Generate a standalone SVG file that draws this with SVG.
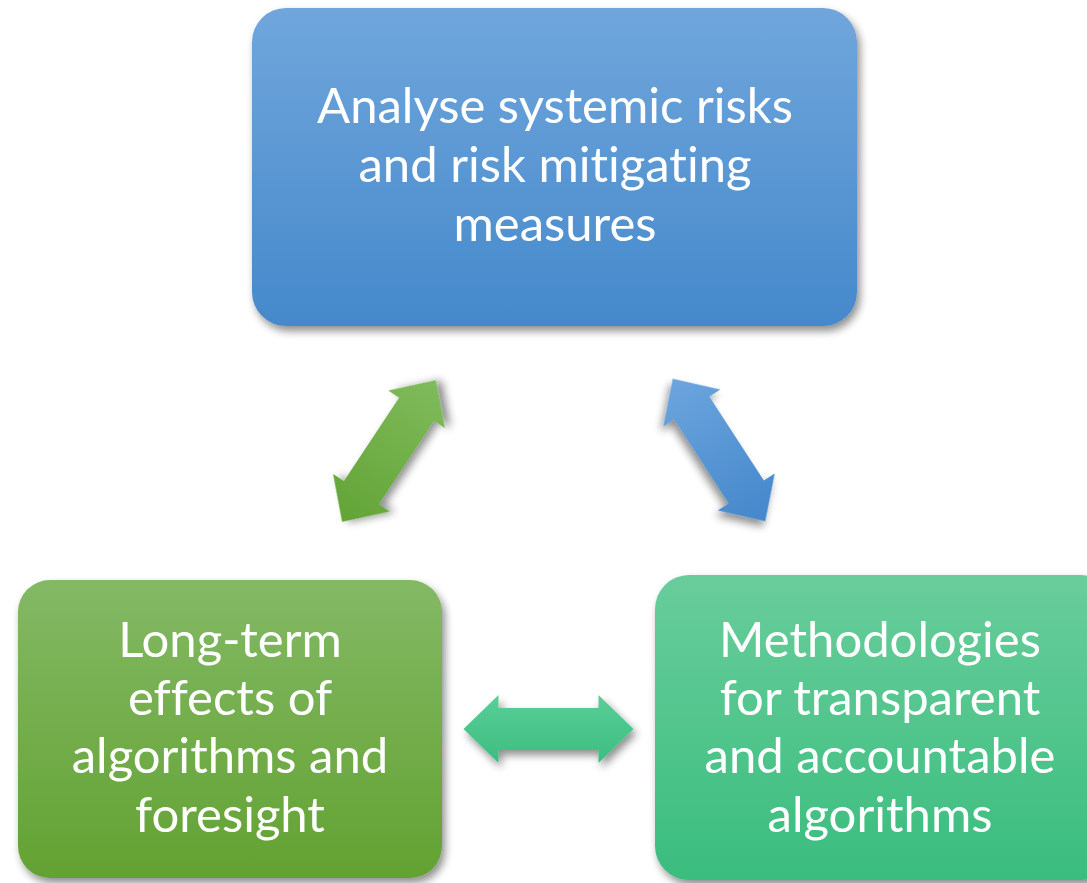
<svg xmlns="http://www.w3.org/2000/svg" width="1087" height="883" viewBox="0 0 1087 883">
<style>
.lbl{font-family:Lato,"Open Sans","Liberation Sans",sans-serif;font-size:49px;fill:#ffffff;text-anchor:middle;font-variant-ligatures:none;font-feature-settings:"liga" 0}
</style>
<defs>
<linearGradient id="gBlue" x1="0" y1="0" x2="0" y2="1"><stop offset="0" stop-color="#70a6dc"/><stop offset="1" stop-color="#4589cb"/></linearGradient>
<linearGradient id="gGreen" x1="0" y1="0" x2="0" y2="1"><stop offset="0" stop-color="#83b965"/><stop offset="1" stop-color="#63a232"/></linearGradient>
<linearGradient id="gTeal" x1="0" y1="0" x2="0" y2="1"><stop offset="0" stop-color="#69cd9b"/><stop offset="1" stop-color="#3abd7e"/></linearGradient>
<linearGradient id="aGreen" x1="1" y1="0" x2="0" y2="0"><stop offset="0" stop-color="#80bb5c"/><stop offset="1" stop-color="#62a436"/></linearGradient>
<linearGradient id="aBlue" x1="0" y1="0" x2="1" y2="0"><stop offset="0" stop-color="#6ca5de"/><stop offset="1" stop-color="#4487cb"/></linearGradient>
<linearGradient id="aTeal" x1="0" y1="0" x2="0" y2="1"><stop offset="0" stop-color="#58cf98"/><stop offset="1" stop-color="#3dbd80"/></linearGradient>
<filter id="sh" x="-10%" y="-10%" width="125%" height="130%">
<feGaussianBlur in="SourceAlpha" stdDeviation="4"/>
<feOffset dx="3" dy="5" result="b"/>
<feComponentTransfer><feFuncA type="linear" slope="0.45"/></feComponentTransfer>
<feMerge><feMergeNode/><feMergeNode in="SourceGraphic"/></feMerge>
</filter>
<path id="dbl" d="M -85 0 L -50 -34 L -50 -21 L 50 -21 L 50 -34 L 85 0 L 50 34 L 50 21 L -50 21 L -50 34 Z"/>
</defs>
<rect width="1087" height="883" fill="#ffffff"/>
<g id="connectors">
<use href="#dbl" fill="url(#aGreen)" filter="url(#sh)" transform="translate(389 451) rotate(-56.5)"/>
<use href="#dbl" fill="url(#aBlue)" filter="url(#sh)" transform="translate(719 450) rotate(57)"/>
<use href="#dbl" fill="url(#aTeal)" filter="url(#sh)" transform="translate(548.5 729)"/>
</g>
<g id="node-top">
<rect x="252" y="8" width="605" height="318" rx="34" fill="url(#gBlue)" filter="url(#sh)"/>
<text class="lbl" x="555" y="123">Analyse systemic risks</text>
<text class="lbl" x="555" y="182">and risk mitigating</text>
<text class="lbl" x="555" y="241">measures</text>
</g>
<g id="node-left">
<rect x="18" y="580" width="424" height="298" rx="32" fill="url(#gGreen)" filter="url(#sh)"/>
<text class="lbl" x="230" y="657">Long-term</text>
<text class="lbl" x="230" y="715">effects of</text>
<text class="lbl" x="230" y="773">algorithms and</text>
<text class="lbl" x="230" y="832">foresight</text>
</g>
<g id="node-right">
<rect x="655" y="575" width="460" height="305" rx="34" fill="url(#gTeal)" filter="url(#sh)"/>
<text class="lbl" x="880" y="657">Methodologies</text>
<text class="lbl" x="880" y="715">for transparent</text>
<text class="lbl" x="880" y="773">and accountable</text>
<text class="lbl" x="880" y="832">algorithms</text>
</g>
</svg>
